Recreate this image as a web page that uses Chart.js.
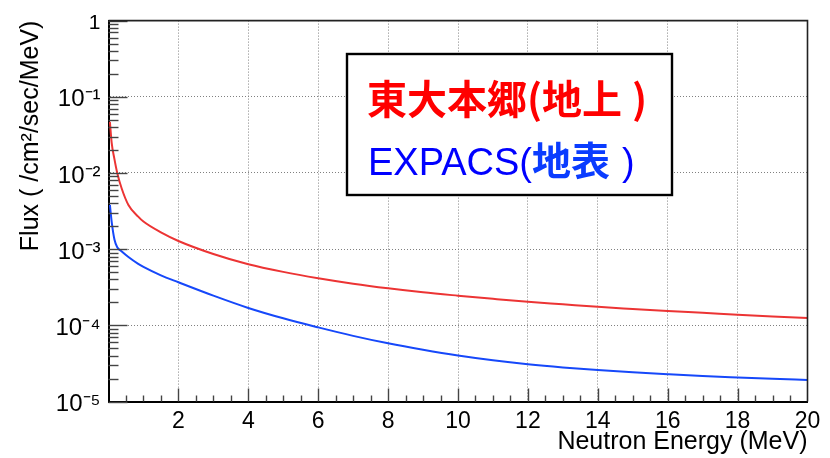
<!DOCTYPE html>
<html>
<head>
<meta charset="utf-8">
<script src="https://cdn.jsdelivr.net/npm/chart.js@4.4.0/dist/chart.umd.min.js"></script>
<style>
  html, body { margin: 0; padding: 0; background: #fff; }
  #wrap { width: 830px; height: 458px; }
</style>
</head>
<body>
<div id="wrap"><canvas id="c" width="830" height="458"></canvas></div>
<script>
// ---- data ----
const energyMeV = [0.04, 0.09, 0.17, 0.25, 0.38, 0.57, 0.85, 1, 1.5, 2, 3, 4, 5, 6, 7, 8, 9, 10, 11, 12, 13, 14, 15, 16, 17, 18, 19, 20];
const fluxHongo = [0.047, 0.025, 0.0152, 0.010, 0.0062, 0.0038, 0.00267, 0.00230, 0.00166, 0.00128, 0.000864, 0.000634, 0.000503, 0.000415, 0.000352, 0.000306, 0.000271, 0.000245, 0.000223, 0.000204, 0.000189, 0.000175, 0.000164, 0.000154, 0.000146, 0.000138, 0.000131, 0.000125];
const fluxExpacs = [0.0038, 0.0023, 0.00134, 0.00106, 0.00093, 0.000788, 0.00064, 0.000583, 0.000452, 0.000367, 0.000245, 0.000169, 0.0001235, 0.0000939, 0.0000727, 0.000058, 0.0000477, 0.0000401, 0.0000347, 0.0000308, 0.000028, 0.0000259, 0.0000242, 0.0000228, 0.0000216, 0.0000207, 0.0000199, 0.0000192];
const seriesNames = ['東大本郷(地上)', 'EXPACS(地表)'];
const xTickValues = [2, 4, 6, 8, 10, 12, 14, 16, 18, 20];
const xTickLabels = ['2', '4', '6', '8', '10', '12', '14', '16', '18', '20'];
const yTickValues = [1e-5, 1e-4, 1e-3, 1e-2, 1e-1, 1];
const yTickLabels = ['10\u207B\u2075', '10\u207B\u2074', '10\u207B\u00B3', '10\u207B\u00B2', '10\u207B\u00B9', '1'];
const xTitle = 'Neutron Energy (MeV)';
const yTitle = 'Flux ( /cm\u00B2/sec/MeV)';

const LATIN = "'Liberation Sans', Arial, Helvetica, sans-serif";
const CJK = "'Noto Sans CJK JP', 'Noto Sans CJK SC', sans-serif";
Chart.defaults.font.family = LATIN;
Chart.defaults.color = '#000';

const colors = ['rgb(236,52,52)', 'rgb(22,72,250)'];

const decor = {
  id: 'decor',
  afterDatasetsDraw(chart) {
    const ctx = chart.ctx, a = chart.chartArea;
    const xs = chart.scales.x, ys = chart.scales.y;
    ctx.save();
    // inner tick marks on y axis
    ctx.strokeStyle = '#444';
    ctx.lineWidth = 1.4;
    for (let k = 0; k < yTickValues.length; k++) {
      const d = yTickValues[k];
      for (let m = 1; m <= 9; m++) {
        const v = d * m;
        if (v > 1.0000001) break;
        const py = Math.round(ys.getPixelForValue(v)) + 0.5;
        const len = m === 1 ? 19 : 10;
        ctx.beginPath(); ctx.moveTo(a.left, py); ctx.lineTo(a.left + len, py); ctx.stroke();
      }
    }
    // inner tick marks on x axis
    for (let h = 1; h < 40; h++) {
      const v = h * 0.5;
      const px = Math.round(xs.getPixelForValue(v)) + 0.5;
      const len = (h % 4 === 0) ? 13 : 6;
      ctx.beginPath(); ctx.moveTo(px, a.bottom); ctx.lineTo(px, a.bottom - len); ctx.stroke();
    }
    // x tick labels, placed through the x scale
    ctx.font = '23px ' + LATIN;
    ctx.fillStyle = '#000';
    ctx.textAlign = 'center';
    ctx.textBaseline = 'alphabetic';
    xTickValues.forEach((v, i) => {
      ctx.fillText(xTickLabels[i], xs.getPixelForValue(v), a.bottom + 26.5);
    });
    // top and right frame
    ctx.strokeStyle = '#222';
    ctx.lineWidth = 1.6;
    ctx.beginPath();
    ctx.moveTo(a.left, a.top); ctx.lineTo(a.right, a.top); ctx.lineTo(a.right, a.bottom);
    ctx.stroke();

    // legend box
    const bx = 347, by = 54, bw = 325, bh = 141;
    ctx.fillStyle = '#fff';
    ctx.fillRect(bx, by, bw, bh);
    ctx.strokeStyle = '#000';
    ctx.lineWidth = 2.4;
    ctx.strokeRect(bx, by, bw, bh);

    const isCJK = ch => /[\u3000-\u9fff\uff00-\uffef]/.test(ch);
    const drawRuns = (text, x, y, latinFont, cjkFont, latinColor, cjkColor, closeGap) => {
      ctx.textBaseline = 'alphabetic';
      ctx.textAlign = 'left';
      let i = 0;
      while (i < text.length) {
        const c = isCJK(text[i]);
        let j = i;
        while (j < text.length && isCJK(text[j]) === c) j++;
        const run = text.slice(i, j);
        ctx.font = c ? cjkFont : latinFont;
        ctx.fillStyle = c ? cjkColor : latinColor;
        if (run === ')') x += closeGap;
        ctx.fillText(run, x, y);
        x += ctx.measureText(run).width;
        i = j;
      }
    };
    drawRuns(seriesNames[0], 367, 114, "bold 40px " + CJK, "bold 40px " + CJK, '#ff0000', '#ff0000', 10);
    drawRuns(seriesNames[1], 368, 175, "38px " + LATIN, "bold 39px " + CJK, '#0000ff', '#0a3cff', 12);
    ctx.restore();
  }
};

new Chart(document.getElementById('c'), {
  type: 'line',
  data: {
    datasets: [
      { label: seriesNames[0], data: energyMeV.map((e, i) => ({ x: e, y: fluxHongo[i] })),
        borderColor: colors[0], borderWidth: 2, pointRadius: 0, fill: false, cubicInterpolationMode: 'monotone' },
      { label: seriesNames[1], data: energyMeV.map((e, i) => ({ x: e, y: fluxExpacs[i] })),
        borderColor: colors[1], borderWidth: 2, pointRadius: 0, fill: false, cubicInterpolationMode: 'monotone' }
    ]
  },
  options: {
    responsive: false,
    animation: false,
    devicePixelRatio: 1,
    layout: { padding: { left: 0, right: 22.5, top: 14, bottom: 0 } },
    plugins: { legend: { display: false }, tooltip: { enabled: false } },
    scales: {
      x: {
        type: 'linear', min: 0, max: 20,
        afterBuildTicks: s => { s.ticks = [{ value: 0 }].concat(xTickValues.map(v => ({ value: v }))); },
        afterFit: s => { s.height = 56.5; },
        ticks: { display: false },
        grid: { color: '#808080', lineWidth: 1, drawTicks: false },
        border: { display: true, color: '#000', width: 2, dash: [1, 2] },
        title: { display: true, text: xTitle, align: 'end', color: '#000', font: { size: 25 }, padding: { top: 0, bottom: 1 } }
      },
      y: {
        type: 'logarithmic', min: 1e-5, max: 1,
        afterBuildTicks: s => { s.ticks = yTickValues.map(v => ({ value: v })); },
        afterFit: s => { s.width = 108.5; },
        ticks: {
          autoSkip: false, padding: 8, color: '#000', labelOffset: 3,
          font: (c) => ({ size: (c.tick && c.tick.value === 1) ? 21 : 24 }),
          callback: (v, i) => yTickLabels[i]
        },
        grid: { color: '#808080', lineWidth: 1, drawTicks: false },
        border: { display: true, color: '#000', width: 2, dash: [1, 2] },
        title: { display: true, text: yTitle, align: 'end', color: '#000', font: { size: 25 }, padding: { top: 16, bottom: 0 } }
      }
    }
  },
  plugins: [decor]
});
</script>
</body>
</html>
